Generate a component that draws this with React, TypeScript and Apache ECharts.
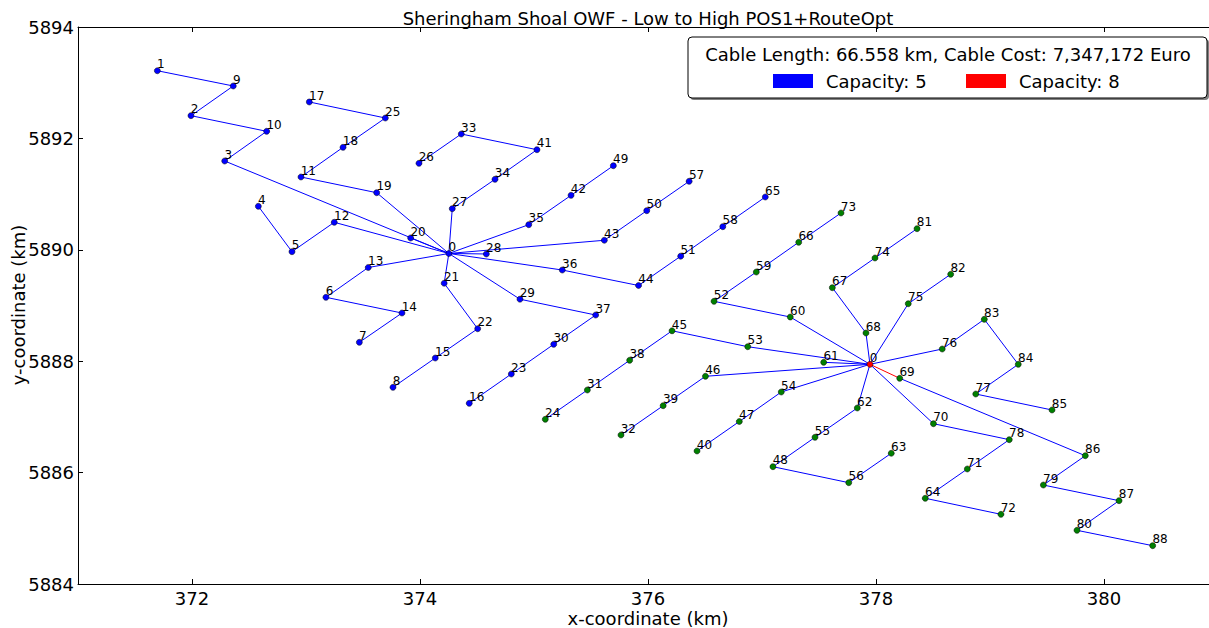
import React, { useEffect, useRef } from "react";
import * as echarts from "echarts";

// Turbine ids 1..88 with coordinates (km)
const turbineX = [
  371.696, 371.991, 372.287, 372.582, 372.877, 373.175, 373.468, 373.763,
  372.362, 372.655, 372.956, 373.248, 373.546, 373.842, 374.134, 374.432,
  373.029, 373.325, 373.62, 373.918, 374.212, 374.506, 374.801, 375.099,
  373.696, 373.991, 374.283, 374.582, 374.877, 375.173, 375.468, 375.763,
  374.362, 374.658, 374.954, 375.248, 375.541, 375.839, 376.133, 376.43,
  375.026, 375.325, 375.617, 375.917, 376.211, 376.504, 376.801, 377.096,
  375.696, 375.989, 376.287, 376.579, 376.875, 377.169, 377.465, 377.761,
  376.361, 376.656, 376.95, 377.248, 377.541, 377.836, 378.134, 378.432,
  377.029, 377.322, 377.617, 377.912, 378.208, 378.504, 378.801, 379.096,
  377.693, 377.991, 378.283, 378.581, 378.875, 379.169, 379.468, 379.763,
  378.36, 378.655, 378.95, 379.248, 379.544, 379.836, 380.132, 380.427,
];
const turbineY = [
  5893.215, 5892.408, 5891.594, 5890.781, 5889.966, 5889.147, 5888.339, 5887.531,
  5892.941, 5892.127, 5891.307, 5890.494, 5889.682, 5888.865, 5888.057, 5887.244,
  5892.654, 5891.84, 5891.025, 5890.212, 5889.399, 5888.583, 5887.77, 5886.957,
  5892.366, 5891.553, 5890.738, 5889.925, 5889.113, 5888.303, 5887.483, 5886.675,
  5892.079, 5891.266, 5890.451, 5889.637, 5888.829, 5888.016, 5887.201, 5886.388,
  5891.797, 5890.978, 5890.171, 5889.359, 5888.546, 5887.729, 5886.917, 5886.106,
  5891.51, 5890.702, 5889.885, 5889.075, 5888.26, 5887.447, 5886.634, 5885.819,
  5891.23, 5890.415, 5889.601, 5888.793, 5887.98, 5887.16, 5886.347, 5885.539,
  5890.948, 5890.135, 5889.32, 5888.506, 5887.693, 5886.878, 5886.065, 5885.251,
  5890.661, 5889.853, 5889.032, 5888.219, 5887.411, 5886.591, 5885.777, 5884.964,
  5890.379, 5889.56, 5888.752, 5887.944, 5887.124, 5886.303, 5885.496, 5884.688,
];
// Substations (both labelled 0): id -1 and -2
const subX = [374.253, 377.947];
const subY = [5889.934, 5887.944];

// Turbines fed by substation 2 (green markers)
const sub2Turbines = [
  24, 31, 32, 38, 39, 40, 45, 46, 47, 48, 52, 53, 54, 55, 56, 59, 60, 61, 62, 63,
  64, 66, 67, 68, 69, 70, 71, 72, 73, 74, 75, 76, 77, 78, 79, 80, 81, 82, 83, 84,
  85, 86, 87, 88,
];

// Cable edges [from, to]; -1 = substation 1, -2 = substation 2
const blueEdges = [
  [1, 9], [9, 2], [2, 10], [10, 3], [3, -1],
  [17, 25], [25, 18], [18, 11], [11, 19], [19, -1],
  [4, 5], [5, 12], [12, -1], [20, -1],
  [13, -1], [13, 6], [6, 14], [14, 7],
  [21, -1], [21, 22], [22, 15], [15, 8],
  [26, 33], [33, 41], [41, 34], [34, 27], [27, -1],
  [49, 42], [42, 35], [35, -1],
  [57, 50], [50, 43], [43, -1], [28, -1],
  [65, 58], [58, 51], [51, 44], [44, 36], [36, -1],
  [16, 23], [23, 30], [30, 37], [37, 29], [29, -1],
  [24, 31], [31, 38], [38, 45], [45, 53], [53, -2], [61, -2],
  [32, 39], [39, 46], [46, -2],
  [40, 47], [47, 54], [54, -2],
  [73, 66], [66, 59], [59, 52], [52, 60], [60, -2],
  [81, 74], [74, 67], [67, 68], [68, -2],
  [82, 75], [75, -2],
  [85, 77], [77, 84], [84, 83], [83, 76], [76, -2],
  [63, 56], [56, 48], [48, 55], [55, 62], [62, -2],
  [72, 64], [64, 71], [71, 78], [78, 70], [70, -2],
  [88, 80], [80, 87], [87, 79], [79, 86], [86, 69],
];
const redEdges = [[69, -2]];

const xTicks = [372, 374, 376, 378, 380];

const FONT = "DejaVu Sans";

function pos(id: number): number[] {
  if (id < 0) return [subX[-id - 1], subY[-id - 1]];
  return [turbineX[id - 1], turbineY[id - 1]];
}

export default function App() {
  const ref = useRef<HTMLDivElement>(null);
  useEffect(() => {
    if (!ref.current) return;
    const chart = echarts.init(ref.current, null, { renderer: "svg" });

    const blueNodes: any[] = [];
    const greenNodes: any[] = [];
    turbineX.forEach((x, i) => {
      const id = i + 1;
      const item = { value: [x, turbineY[i]], name: String(id) };
      if (sub2Turbines.includes(id)) greenNodes.push(item);
      else blueNodes.push(item);
    });

    const lineData = [
      ...blueEdges.map((e) => ({ coords: [pos(e[0]), pos(e[1])], lineStyle: { color: "#0000ff" } })),
      ...redEdges.map((e) => ({ coords: [pos(e[0]), pos(e[1])], lineStyle: { color: "#ff0000" } })),
    ];

    const labelCfg = {
      show: true,
      position: [3, -9],
      formatter: (p: any) => p.name,
      fontSize: 12,
      fontFamily: FONT,
      color: "#000",
    };
    const scatterBase = {
      type: "scatter",
      symbol: "circle",
      symbolSize: 6,
      label: labelCfg,
      emphasis: { disabled: true },
      z: 3,
    };

    const axisText = { fontSize: 18, fontFamily: FONT, color: "#000" };

    chart.setOption({
      animation: false,
      grid: {
        left: 78,
        top: 27,
        right: -9,
        bottom: 44,
        containLabel: false,
        outerBoundsMode: "none",
      },
      xAxis: [
        {
          type: "value",
          min: 371,
          max: 381,
          position: "bottom",
          axisLine: { show: true, lineStyle: { color: "#000", width: 1 } },
          axisTick: { show: true, inside: true, length: 5, customValues: xTicks, lineStyle: { color: "#000" } },
          axisLabel: { show: true, customValues: xTicks, margin: 5, ...axisText, formatter: (v: number) => String(v) },
          splitLine: { show: false },
        },
        {
          type: "value",
          min: 371,
          max: 381,
          position: "top",
          axisLine: { show: true, lineStyle: { color: "#000", width: 1 } },
          axisTick: { show: true, inside: true, length: 5, customValues: xTicks, lineStyle: { color: "#000" } },
          axisLabel: { show: false },
          splitLine: { show: false },
        },
      ],
      yAxis: [
        {
          type: "value",
          min: 5884,
          max: 5894,
          interval: 2,
          position: "left",
          axisLine: { show: true, lineStyle: { color: "#000", width: 1 } },
          axisTick: { show: true, inside: true, length: 5, lineStyle: { color: "#000" } },
          axisLabel: { show: true, margin: 4, ...axisText, formatter: (v: number) => String(v) },
          splitLine: { show: false },
        },
        {
          type: "value",
          min: 5884,
          max: 5894,
          interval: 2,
          position: "right",
          axisLine: { show: true, lineStyle: { color: "#000", width: 1 } },
          axisTick: { show: true, inside: true, length: 5, lineStyle: { color: "#000" } },
          axisLabel: { show: false },
          splitLine: { show: false },
        },
      ],
      series: [
        {
          type: "lines",
          coordinateSystem: "cartesian2d",
          xAxisIndex: 0,
          yAxisIndex: 0,
          polyline: false,
          silent: true,
          lineStyle: { width: 1, opacity: 1 },
          data: lineData,
          z: 2,
        },
        {
          ...scatterBase,
          name: "turbines-sub1",
          itemStyle: { color: "#0000ff", borderColor: "#000", borderWidth: 0.5, opacity: 1 },
          data: blueNodes,
        },
        {
          ...scatterBase,
          name: "turbines-sub2",
          itemStyle: { color: "#008000", borderColor: "#000", borderWidth: 0.5, opacity: 1 },
          data: greenNodes,
        },
        {
          ...scatterBase,
          name: "substation-1",
          itemStyle: { color: "#0000ff", borderColor: "#000", borderWidth: 0.5, opacity: 1 },
          data: [{ value: [subX[0], subY[0]], name: "0" }],
        },
        {
          ...scatterBase,
          name: "substation-2",
          itemStyle: { color: "#ff0000", borderColor: "#000", borderWidth: 0.5, opacity: 1 },
          data: [{ value: [subX[1], subY[1]], name: "0" }],
        },
      ],
      graphic: [
        {
          type: "text",
          x: 648,
          y: 18,
          style: {
            text: "Sheringham Shoal OWF - Low to High POS1+RouteOpt",
            fontSize: 18,
            fontFamily: FONT,
            fill: "#000",
            align: "center",
            verticalAlign: "middle",
          },
        },
        {
          type: "text",
          x: 648,
          y: 618,
          style: {
            text: "x-coordinate (km)",
            fontSize: 18,
            fontFamily: FONT,
            fill: "#000",
            align: "center",
            verticalAlign: "middle",
          },
        },
        {
          type: "text",
          x: 18,
          y: 305,
          rotation: Math.PI / 2,
          style: {
            text: "y-coordinate (km)",
            fontSize: 18,
            fontFamily: FONT,
            fill: "#000",
            align: "center",
            verticalAlign: "middle",
          },
        },
        {
          type: "rect",
          shape: { x: 690, y: 39, width: 519, height: 61, r: 4 },
          style: { fill: "#808080", stroke: "none" },
          z: 10,
        },
        {
          type: "rect",
          shape: { x: 688, y: 37, width: 519, height: 61, r: 4 },
          style: { fill: "#ffffff", stroke: "#000", lineWidth: 1 },
          z: 11,
        },
        {
          type: "text",
          x: 948,
          y: 54,
          z: 12,
          style: {
            text: "Cable Length: 66.558 km, Cable Cost: 7,347,172 Euro",
            fontSize: 18,
            fontFamily: FONT,
            fill: "#000",
            align: "center",
            verticalAlign: "middle",
          },
        },
        {
          type: "rect",
          z: 12,
          shape: { x: 773, y: 74, width: 40, height: 14 },
          style: { fill: "#0000ff", stroke: "none" },
        },
        {
          type: "text",
          x: 826,
          y: 81,
          z: 12,
          style: {
            text: "Capacity: 5",
            fontSize: 18,
            fontFamily: FONT,
            fill: "#000",
            align: "left",
            verticalAlign: "middle",
          },
        },
        {
          type: "rect",
          z: 12,
          shape: { x: 966, y: 74, width: 40, height: 14 },
          style: { fill: "#ff0000", stroke: "none" },
        },
        {
          type: "text",
          x: 1019,
          y: 81,
          z: 12,
          style: {
            text: "Capacity: 8",
            fontSize: 18,
            fontFamily: FONT,
            fill: "#000",
            align: "left",
            verticalAlign: "middle",
          },
        },
      ],
    });
    return () => chart.dispose();
  }, []);

  return (
    <div
      ref={ref}
      style={{ position: "fixed", left: 0, top: 0, width: 1209, height: 628, background: "#fff" }}
    />
  );
}
